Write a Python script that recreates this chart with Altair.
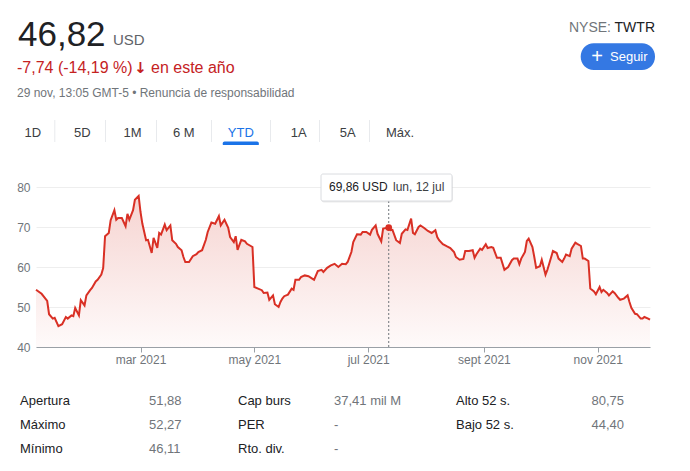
import altair as alt
import pandas as pd

# ---------------- data ----------------
dates = [
    "2021-01-04", "2021-01-07", "2021-01-10", "2021-01-11", "2021-01-13", "2021-01-14",
    "2021-01-16", "2021-01-18", "2021-01-20", "2021-01-21", "2021-01-23", "2021-01-24",
    "2021-01-25", "2021-01-27", "2021-01-28", "2021-01-30", "2021-01-31", "2021-02-02",
    "2021-02-03", "2021-02-05", "2021-02-06", "2021-02-08", "2021-02-09", "2021-02-10",
    "2021-02-12", "2021-02-13", "2021-02-15", "2021-02-16", "2021-02-17", "2021-02-19",
    "2021-02-21", "2021-02-22", "2021-02-23", "2021-02-25", "2021-02-26", "2021-02-28",
    "2021-03-01", "2021-03-02", "2021-03-04", "2021-03-05", "2021-03-07", "2021-03-08",
    "2021-03-10", "2021-03-11", "2021-03-12", "2021-03-14", "2021-03-15", "2021-03-17",
    "2021-03-18", "2021-03-20", "2021-03-21", "2021-03-23", "2021-03-24", "2021-03-25",
    "2021-03-27", "2021-03-29", "2021-03-31", "2021-04-01", "2021-04-03", "2021-04-05",
    "2021-04-06", "2021-04-08", "2021-04-10", "2021-04-12", "2021-04-13", "2021-04-15",
    "2021-04-17", "2021-04-18", "2021-04-20", "2021-04-21", "2021-04-22", "2021-04-24",
    "2021-04-26", "2021-04-27", "2021-04-30", "2021-05-01", "2021-05-03", "2021-05-05",
    "2021-05-06", "2021-05-08", "2021-05-09", "2021-05-11", "2021-05-12", "2021-05-14",
    "2021-05-15", "2021-05-16", "2021-05-17", "2021-05-19", "2021-05-21", "2021-05-22",
    "2021-05-23", "2021-05-25", "2021-05-26", "2021-05-28", "2021-05-30", "2021-06-01",
    "2021-06-02", "2021-06-04", "2021-06-06", "2021-06-07", "2021-06-09", "2021-06-11",
    "2021-06-13", "2021-06-15", "2021-06-17", "2021-06-19", "2021-06-20", "2021-06-22",
    "2021-06-23", "2021-06-25", "2021-06-27", "2021-06-28", "2021-06-30", "2021-07-02",
    "2021-07-03", "2021-07-05", "2021-07-06", "2021-07-08", "2021-07-09", "2021-07-12",
    "2021-07-13", "2021-07-14", "2021-07-16", "2021-07-18", "2021-07-19", "2021-07-21",
    "2021-07-22", "2021-07-24", "2021-07-25", "2021-07-26", "2021-07-28", "2021-07-29",
    "2021-07-31", "2021-08-02", "2021-08-04", "2021-08-06", "2021-08-07", "2021-08-08",
    "2021-08-10", "2021-08-12", "2021-08-14", "2021-08-16", "2021-08-17", "2021-08-19",
    "2021-08-21", "2021-08-22", "2021-08-24", "2021-08-26", "2021-08-27", "2021-08-28",
    "2021-08-30", "2021-08-31", "2021-09-02", "2021-09-03", "2021-09-05", "2021-09-06",
    "2021-09-08", "2021-09-10", "2021-09-12", "2021-09-14", "2021-09-16", "2021-09-17",
    "2021-09-19", "2021-09-20", "2021-09-21", "2021-09-23", "2021-09-24", "2021-09-25",
    "2021-09-27", "2021-09-28", "2021-09-29", "2021-10-01", "2021-10-02", "2021-10-04",
    "2021-10-05", "2021-10-06", "2021-10-08", "2021-10-10", "2021-10-11", "2021-10-13",
    "2021-10-14", "2021-10-15", "2021-10-17", "2021-10-18", "2021-10-20", "2021-10-21",
    "2021-10-23", "2021-10-24", "2021-10-25", "2021-10-27", "2021-10-28", "2021-10-30",
    "2021-10-31", "2021-11-02", "2021-11-03", "2021-11-04", "2021-11-06", "2021-11-07",
    "2021-11-09", "2021-11-10", "2021-11-12", "2021-11-13", "2021-11-15", "2021-11-17",
    "2021-11-18", "2021-11-19", "2021-11-21", "2021-11-22", "2021-11-24", "2021-11-25",
    "2021-11-26", "2021-11-28", "2021-11-29",
]
prices = [
    54.3, 53.3, 51.5, 48.2, 47.1, 47.3,
    45.2, 45.7, 47.5, 47.1, 47.9, 47.7,
    49.75, 47.9, 51.7, 50.4, 52.9, 54.2,
    54.75, 56.4, 56.8, 58.1, 59.75, 67.7,
    68.5, 71.7, 74.2, 71.8, 72.25, 72.25,
    70.2, 73.3, 71.8, 74.2, 76.8, 77.75,
    73.75, 70.8, 66.7, 66.8, 63.5, 67.3,
    64.8, 68.5, 68.1, 70.6, 69.2, 70.4,
    66.7, 65.8, 65.0, 64.2, 62.5, 61.25,
    61.25, 62.7, 63.2, 63.75, 64.2, 66.8,
    68.75, 71.1, 70.8, 72.7, 70.4, 71.8,
    69.8, 67.5, 66.25, 67.7, 64.3, 66.8,
    66.4, 65.8, 65.0, 55.0, 54.6, 54.2,
    53.5, 53.6, 51.8, 52.9, 50.7, 50.0,
    51.25, 52.1, 52.7, 53.1, 54.6, 54.3,
    56.8, 56.8, 57.5, 57.9, 57.7, 57.1,
    56.8, 59.0, 59.3, 58.75, 59.8, 60.4,
    60.8, 60.0, 60.8, 60.7, 61.25, 63.75,
    66.25, 68.2, 68.1, 68.75, 68.75, 68.1,
    69.3, 70.4, 68.3, 66.4, 69.6, 69.86,
    69.2, 69.3, 66.7, 66.0, 68.3, 69.4,
    69.25, 72.1, 68.5, 68.2, 70.0, 70.4,
    69.75, 69.0, 68.5, 69.2, 67.5, 66.7,
    65.7, 65.2, 64.75, 63.75, 62.5, 61.8,
    62.0, 64.0, 64.0, 64.2, 62.3, 63.2,
    64.6, 64.3, 65.7, 64.75, 65.0, 64.8,
    62.3, 62.3, 59.3, 60.0, 61.7, 62.1,
    62.1, 60.7, 62.1, 63.75, 66.5, 67.1,
    65.0, 62.5, 59.8, 60.2, 61.8, 58.1,
    59.3, 60.8, 64.0, 63.5, 62.1, 61.25,
    62.1, 63.1, 62.7, 64.6, 66.1, 65.8,
    65.25, 62.1, 62.1, 61.5, 54.6, 53.9,
    53.2, 55.0, 53.75, 54.3, 53.5, 52.9,
    53.9, 53.5, 52.3, 51.8, 52.1, 52.9,
    51.25, 49.8, 48.3, 48.2, 47.1, 47.1,
    47.5, 47.1, 46.82,
]

x_tick_months = [3, 5, 7, 9, 11]
y_ticks = [40, 50, 60, 70, 80]
month_names = ["ene", "feb", "mar", "abr", "may", "jun", "jul", "ago", "sept", "oct", "nov", "dic"]

price_now = "46,82"
currency = "USD"
change_text = "-7,74 (-14,19 %)"
change_arrow = "\u2193"
change_suffix = "en este año"
timestamp_text = "29 nov, 13:05 GMT-5 \u2022 Renuncia de responsabilidad"
exchange = "NYSE:"
ticker = "TWTR"
follow_label = "Seguir"

tabs = ["1D", "5D", "1M", "6 M", "YTD", "1A", "5A", "Máx."]
active_tab = "YTD"

tip_date = "2021-07-12"
tip_value = 69.86
tip_day = "lun, 12 jul"

stats_col1_labels = ["Apertura", "Máximo", "Mínimo"]
stats_col1_values = ["51,88", "52,27", "46,11"]
stats_col2_labels = ["Cap burs", "PER", "Rto. div."]
stats_col2_values = ["37,41 mil M", "-", "-"]
stats_col3_labels = ["Alto 52 s.", "Bajo 52 s."]
stats_col3_values = ["80,75", "44,40"]

# ---------------- layout / style ----------------
FONT = "Arial, Liberation Sans, sans-serif"
RED = "#d93025"
RED_TEXT = "#c5221f"
BLUE = "#1a73e8"
DARK = "#202124"
GRAY = "#70757a"

PLOT_W, PLOT_H = 623, 160
PAD = {"left": 32, "top": 187, "right": 35, "bottom": 124}

df = pd.DataFrame({"date": pd.to_datetime(dates), "price": prices})
one = pd.DataFrame({"k": [0]})
tip_df = pd.DataFrame({"date": pd.to_datetime([tip_date]), "price": [tip_value]})

x_scale = alt.Scale(
    domain=[alt.DateTime(year=2021, month=1, date=4), alt.DateTime(year=2021, month=11, date=29)],
    range=[4, 618],
)
y_scale = alt.Scale(domain=[40, 80], zero=False, nice=False)

label_expr = "[" + ",".join("'%s'" % m for m in month_names) + "][month(datum.value)] + ' ' + year(datum.value)"

x_axis = alt.Axis(
    values=[alt.DateTime(year=2021, month=m, date=1) for m in x_tick_months],
    labelExpr=label_expr,
    title=None, grid=False, tickSize=5, tickColor="#9aa0a6", domainColor="#9aa0a6",
    labelFont=FONT, labelFontSize=12, labelColor=GRAY, labelPadding=2,
)
y_axis = alt.Axis(
    values=y_ticks, title=None, domain=False, ticks=False, grid=True,
    gridColor="#eeeeee", labelFont=FONT, labelFontSize=12, labelColor=GRAY,
    labelPadding=2, labelOverlap=False,
)

gradient = alt.Gradient(
    gradient="linear",
    stops=[alt.GradientStop(color="#fefafa", offset=0), alt.GradientStop(color="#f6d4d1", offset=1)],
    x1=1, x2=1, y1=1, y2=0,
)

X = alt.X("date:T", scale=x_scale, axis=x_axis)
Y = alt.Y("price:Q", scale=y_scale, axis=y_axis)

area = alt.Chart(df).mark_area(color=gradient).encode(x=X, y=Y, y2=alt.datum(40))
line = alt.Chart(df).mark_line(color=RED, strokeWidth=2).encode(x=X, y=Y)


def txt(text, x, y, size, color, align="left", weight="normal", font=FONT):
    return alt.Chart(one).mark_text(
        text=text, align=align, baseline="alphabetic", fontSize=size,
        color=color, font=font, fontWeight=weight,
    ).encode(x=alt.value(x), y=alt.value(y))


def box(x, x2, y, y2, color, **kw):
    return alt.Chart(one).mark_rect(color=color, **kw).encode(
        x=alt.value(x), x2=alt.value(x2), y=alt.value(y), y2=alt.value(y2)
    )


layers = [area, line]

# tooltip crosshair
rule = alt.Chart(tip_df).mark_rule(color=GRAY, strokeDash=[2, 2], strokeWidth=1).encode(
    x=X, y=alt.value(14), y2=alt.value(PLOT_H)
)
dot = alt.Chart(tip_df).mark_point(filled=True, color=RED, size=45, opacity=1).encode(x=X, y=Y)
layers += [rule, dot]
layers.append(box(289, 421, -12, 15.5, "#000000", opacity=0.08, cornerRadius=3))
layers.append(box(289, 420, -13, 14, "#ffffff", stroke="#dadce0", strokeWidth=1, cornerRadius=2))
layers.append(txt(("%.2f" % tip_value).replace(".", ",") + " USD", 297, 4, 12, DARK))
layers.append(txt(tip_day, 361, 4, 12, "#3c4043"))

# header
layers.append(txt(price_now, -14, -141, 35, DARK))
layers.append(txt(currency, 81, -142, 15, "#5f6368"))
layers.append(txt(change_text, -15, -114.5, 16, RED_TEXT))
layers.append(txt(change_arrow, 108.5, -114.5, 15, RED_TEXT, align="center", weight="bold", font="DejaVu Sans"))
layers.append(txt(change_suffix, 119, -114.5, 16, RED_TEXT))
layers.append(txt(timestamp_text, -15, -90.5, 12, GRAY))
layers.append(txt(ticker, 623, -155, 14, DARK, align="right"))
layers.append(txt(exchange, 579, -155, 14, GRAY, align="right"))
layers.append(box(548.7, 623, -143.7, -117, "#3478e3", cornerRadius=13))
layers.append(txt("+", 565, -124.5, 20, "#ffffff", align="center"))
layers.append(txt(follow_label, 578, -126, 13, "#ffffff", weight=500))

# tabs
tab_x = [0.8, 50.3, 100.5, 151.8, 208.8, 266.7, 315.7, 368]
sep_x = [22.3, 73, 124, 179, 238, 287, 337]
for t, tx in zip(tabs, tab_x):
    layers.append(txt(t, tx, -50.5, 13, BLUE if t == active_tab else "#3c4043", align="center"))
for sx in sep_x:
    layers.append(box(sx, sx + 1, -67, -45, "#e8eaed"))
ai = tabs.index(active_tab)
layers.append(box(tab_x[ai] - 18, tab_x[ai] + 18, -45.5, -42, BLUE,
                  cornerRadiusTopLeft=3, cornerRadiusTopRight=3))

# stats
row_y = [218, 242, 266]
cols = [
    (stats_col1_labels, stats_col1_values, -12, 117),
    (stats_col2_labels, stats_col2_values, 206, 302),
    (stats_col3_labels, stats_col3_values, 424, 559.5),
]
for labels, values, lx, vx in cols:
    for lab, val, ry in zip(labels, values, row_y):
        layers.append(txt(lab, lx, ry, 13, DARK))
        layers.append(txt(val, vx, ry, 13, GRAY))

chart = alt.layer(*layers).properties(
    width=PLOT_W, height=PLOT_H, padding=PAD,
    autosize=alt.AutoSizeParams(type="none"), background="white",
).configure_view(stroke=None)

chart.save("out.html", embed_options={"renderer": "svg", "actions": False})
